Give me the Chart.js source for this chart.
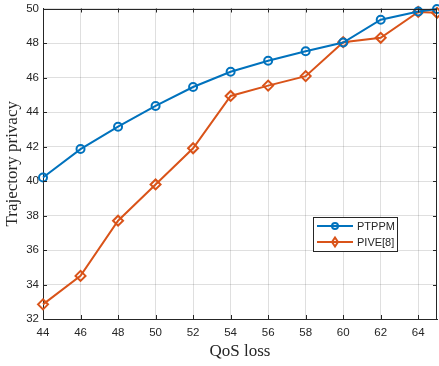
<!DOCTYPE html>
<html>
<head>
<meta charset="utf-8">
<script src="https://cdn.jsdelivr.net/npm/chart.js@4"></script>
<style>
html,body{margin:0;padding:0;background:#fff;}
#wrap{width:439px;height:366px;}
</style>
</head>
<body>
<div id="wrap"><canvas id="c" width="439" height="366"></canvas></div>
<script>
const qosLoss = [44, 46, 48, 50, 52, 54, 56, 58, 60, 62, 64, 65];
const ptppm   = [40.2, 41.85, 43.15, 44.35, 45.45, 46.33, 46.97, 47.52, 48.03, 49.35, 49.83, 49.97];
const pive    = [32.85, 34.5, 37.7, 39.8, 41.9, 44.93, 45.53, 46.08, 48.05, 48.3, 49.8, 49.75];
const xTicks  = [44, 46, 48, 50, 52, 54, 56, 58, 60, 62, 64];
const yTicks  = [32, 34, 36, 38, 40, 42, 44, 46, 48, 50];
const seriesNames = ['PTPPM', 'PIVE[8]'];
const seriesColors = ['#0072BD', '#D95319'];
const markerStyles = ['circle', 'rectRot'];

const AX = '#262626';
const GRID = 'rgba(38,38,38,0.15)';

const frame = {
  id: 'frame',
  afterDatasetsDraw(chart) {
    const {ctx, chartArea: a, scales: {x, y}} = chart;
    ctx.save();
    ctx.strokeStyle = AX;
    ctx.lineWidth = 1;
    ctx.beginPath();
    ctx.moveTo(a.left, Math.round(a.top) + 0.5); ctx.lineTo(a.right, Math.round(a.top) + 0.5);
    ctx.moveTo(Math.round(a.right) - 0.5, a.top); ctx.lineTo(Math.round(a.right) - 0.5, a.bottom);
    const L = 4;
    xTicks.forEach(v => {
      const px = Math.round(x.getPixelForValue(v)) + 0.5;
      ctx.moveTo(px, a.bottom); ctx.lineTo(px, a.bottom - L);
      ctx.moveTo(px, a.top); ctx.lineTo(px, a.top + L);
    });
    yTicks.forEach(v => {
      const py = Math.round(y.getPixelForValue(v)) + 0.5;
      ctx.moveTo(a.left, py); ctx.lineTo(a.left + L, py);
      ctx.moveTo(a.right, py); ctx.lineTo(a.right - L, py);
    });
    ctx.stroke();
    ctx.restore();
  },
  afterDraw(chart) {
    const ctx = chart.ctx;
    const bx = 313.5, by = 217.5, bw = 84, bh = 34;
    ctx.save();
    ctx.fillStyle = '#fff';
    ctx.fillRect(bx, by, bw, bh);
    ctx.strokeStyle = AX;
    ctx.lineWidth = 1;
    ctx.strokeRect(bx, by, bw, bh);
    const rows = [226, 242];
    seriesNames.forEach((name, i) => {
      const yy = rows[i];
      ctx.strokeStyle = seriesColors[i];
      ctx.lineWidth = 2;
      ctx.beginPath();
      ctx.moveTo(317, yy); ctx.lineTo(353, yy);
      ctx.stroke();
      ctx.beginPath();
      if (i === 0) {
        ctx.arc(335, yy, 3, 0, Math.PI * 2);
      } else {
        ctx.moveTo(335, yy - 4.5); ctx.lineTo(338, yy); ctx.lineTo(335, yy + 4.5); ctx.lineTo(332, yy); ctx.closePath();
      }
      ctx.stroke();
      ctx.fillStyle = AX;
      ctx.font = '11px "Liberation Sans", Arial, sans-serif';
      ctx.textBaseline = 'middle';
      ctx.textAlign = 'left';
      ctx.fillText(name, 357, yy + 0.5);
    });
    ctx.restore();
  }
};

const datasets = seriesNames.map((name, i) => ({
  label: name,
  data: qosLoss.map((q, k) => ({x: q, y: (i === 0 ? ptppm : pive)[k]})),
  borderColor: seriesColors[i],
  backgroundColor: seriesColors[i],
  borderWidth: 2,
  pointStyle: markerStyles[i],
  pointRadius: i === 0 ? 4 : 5,
  pointHoverRadius: i === 0 ? 4 : 5,
  pointBorderWidth: 2,
  pointBackgroundColor: 'rgba(0,0,0,0)',
  pointBorderColor: seriesColors[i],
  tension: 0,
  clip: false
}));

new Chart(document.getElementById('c'), {
  type: 'line',
  data: {datasets},
  options: {
    responsive: false,
    animation: false,
    events: [],
    layout: {autoPadding: false, padding: {top: 8.5, right: 2, left: 0, bottom: 0}},
    plugins: {legend: {display: false}, tooltip: {enabled: false}},
    scales: {
      x: {
        type: 'linear',
        min: 44, max: 65,
        afterBuildTicks(s) { s.ticks = xTicks.map(v => ({value: v})); },
        afterFit(s) { s.height = 47; s.paddingLeft = 0; s.paddingRight = 0; },
        grid: {color: GRID, drawTicks: false, lineWidth: 1},
        border: {color: AX, width: 1},
        ticks: {color: AX, padding: 7, maxRotation: 0, autoSkip: false,
                font: {family: '"Liberation Sans", Arial, sans-serif', size: 11.5}},
        title: {display: true, text: 'QoS loss', color: AX,
                font: {family: '"Liberation Serif", "Times New Roman", serif', size: 17},
                padding: {top: 0, bottom: 4}}
      },
      y: {
        type: 'linear',
        min: 32, max: 50,
        afterBuildTicks(s) { s.ticks = yTicks.map(v => ({value: v})); },
        afterFit(s) { s.width = 43; s.paddingTop = 0; s.paddingBottom = 0; },
        grid: {color: GRID, drawTicks: false, lineWidth: 1},
        border: {color: AX, width: 1},
        ticks: {color: AX, padding: 4,
                font: {family: '"Liberation Sans", Arial, sans-serif', size: 11.5}},
        title: {display: true, text: 'Trajectory privacy', color: AX,
                font: {family: '"Liberation Serif", "Times New Roman", serif', size: 17},
                padding: {top: 2, bottom: 0}}
      }
    }
  },
  plugins: [frame]
});
</script>
</body>
</html>
